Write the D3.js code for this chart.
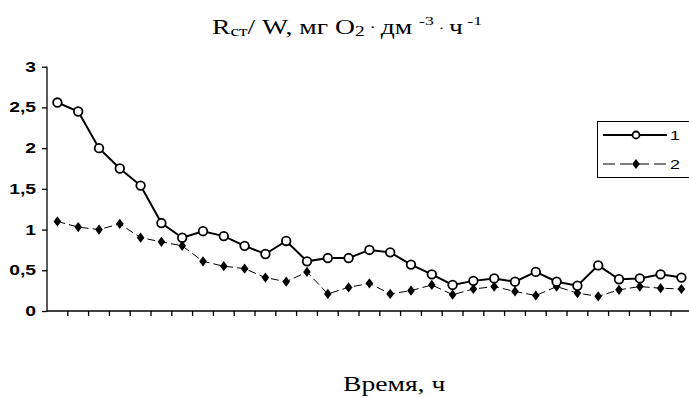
<!DOCTYPE html>
<html>
<head>
<meta charset="utf-8">
<script src="https://cdn.jsdelivr.net/npm/d3@7"></script>
<style>
body { margin: 0; background: #fff; }
svg { display: block; }
.ylab { font-family: "Liberation Sans", Arial, sans-serif; font-weight: bold; font-size: 14px; }
.serif { font-family: "Liberation Serif", "Times New Roman", serif; font-size: 20px; }
.leg { font-family: "Liberation Sans", Arial, sans-serif; font-size: 13px; }
</style>
</head>
<body>
<svg width="689" height="398"></svg>
<script>
// time points (no labels on x axis)
var hours = d3.range(1, 32);
var series1 = [2.56, 2.45, 2.00, 1.75, 1.54, 1.08, 0.90, 0.98, 0.92, 0.80,
    0.70, 0.86, 0.61, 0.65, 0.65, 0.75, 0.72, 0.57, 0.45, 0.32,
    0.37, 0.40, 0.36, 0.48, 0.36, 0.31, 0.56, 0.39, 0.40, 0.45, 0.41];
var series2 = [1.10, 1.03, 1.00, 1.07, 0.90, 0.85, 0.80, 0.61, 0.55, 0.52,
    0.41, 0.36, 0.48, 0.21, 0.29, 0.34, 0.21, 0.25, 0.32, 0.20,
    0.27, 0.30, 0.24, 0.19, 0.30, 0.22, 0.18, 0.26, 0.30, 0.28, 0.27];
var yTicks = [0, 0.5, 1, 1.5, 2, 2.5, 3];
var legendNames = ["1", "2"];

var svg = d3.select("svg");
var x0 = 47, x1 = 47 + 31 * 20.8;
var stretch = 1.38; // the original picture is widened, text included

var xScale = d3.scaleBand()
    .domain(hours)
    .range([x0, x1]);
var yScale = d3.scaleLinear()
    .domain([0, 3])
    .range([311, 66.7]);

var fmt = function(d) { return String(d).replace(".", ","); };

// y axis
var yAxis = svg.append("g")
    .attr("transform", "translate(" + x0 + ",0)")
    .call(d3.axisLeft(yScale).tickValues(yTicks).tickFormat(fmt).tickSize(5).tickPadding(6));
yAxis.select(".domain").attr("stroke", "#000").attr("stroke-width", 1.3).attr("d", "M0," + yScale(3) + "V" + yScale(0));
yAxis.selectAll(".tick line").attr("stroke", "#000").attr("stroke-width", 1.3);
yAxis.selectAll("text")
    .attr("class", "ylab").attr("fill", "#000")
    .attr("font-size", null).attr("font-family", null)
    .attr("x", -11 / stretch)
    .attr("transform", "scale(" + stretch + ",1)");

// x axis: ticks on band boundaries
var xAxis = svg.append("g")
    .attr("transform", "translate(0," + yScale(0) + ")");
xAxis.append("line")
    .attr("x1", x0).attr("x2", x1)
    .attr("stroke", "#000").attr("stroke-width", 1.3);
xAxis.selectAll(".xt")
    .data(hours)
    .enter().append("line")
    .attr("class", "xt")
    .attr("x1", function(d) { return xScale(d) + xScale.bandwidth(); })
    .attr("x2", function(d) { return xScale(d) + xScale.bandwidth(); })
    .attr("y1", 0).attr("y2", 5)
    .attr("stroke", "#000").attr("stroke-width", 1.3);

var cx = function(d, i) { return xScale(hours[i]) + xScale.bandwidth() / 2; };
var line = d3.line()
    .x(cx)
    .y(function(d) { return yScale(d); });

// series 2 - dashed with diamonds
svg.append("path")
    .datum(series2)
    .attr("d", line)
    .attr("fill", "none")
    .attr("stroke", "#000")
    .attr("stroke-width", 1)
    .attr("stroke-dasharray", "8,4");
var diamond = d3.symbol().type(d3.symbolDiamond).size(30);
svg.selectAll(".dia")
    .data(series2)
    .enter().append("path")
    .attr("class", "dia")
    .attr("d", diamond)
    .attr("transform", function(d, i) { return "translate(" + cx(d, i) + "," + yScale(d) + ") scale(1.3,1)"; })
    .attr("fill", "#000");

// series 1 - solid with open circles
svg.append("path")
    .datum(series1)
    .attr("d", line)
    .attr("fill", "none")
    .attr("stroke", "#000")
    .attr("stroke-width", 2);
svg.selectAll(".dot")
    .data(series1)
    .enter().append("circle")
    .attr("class", "dot")
    .attr("cx", cx)
    .attr("cy", function(d) { return yScale(d); })
    .attr("r", 4.3)
    .attr("fill", "#fff")
    .attr("stroke", "#000")
    .attr("stroke-width", 1.8);

// legend
var lg = svg.append("g");
lg.append("rect")
    .attr("x", 597.5).attr("y", 121.5)
    .attr("width", 100).attr("height", 56)
    .attr("fill", "#fff").attr("stroke", "#000").attr("stroke-width", 1);
legendNames.forEach(function(name, i) {
    var ly = 135 + i * 29;
    lg.append("line")
        .attr("x1", 603).attr("x2", 667).attr("y1", ly).attr("y2", ly)
        .attr("stroke", "#000")
        .attr("stroke-width", i == 0 ? 2 : 1)
        .attr("stroke-dasharray", i == 0 ? null : "12,5");
    if (i == 0) {
        lg.append("circle").attr("cx", 636).attr("cy", ly).attr("r", 3.5)
            .attr("fill", "#fff").attr("stroke", "#000").attr("stroke-width", 1.8);
    } else {
        lg.append("path").attr("d", diamond)
            .attr("transform", "translate(636," + ly + ") scale(1.3,1)").attr("fill", "#000");
    }
    lg.append("text")
        .attr("class", "leg")
        .attr("transform", "translate(670," + (ly + 5) + ") scale(" + stretch + ",1)")
        .text(name);
});

// title
var title = svg.append("text")
    .attr("class", "serif")
    .attr("transform", "translate(212,34) scale(" + stretch + ",1)");
title.append("tspan").text("R");
title.append("tspan").attr("font-size", 14).attr("dy", 2).text("ст");
title.append("tspan").attr("dy", -2).text("/ W, мг O");
title.append("tspan").attr("font-size", 14).attr("dy", 2).text("2");
title.append("tspan").attr("font-size", 14).attr("dy", -4).text(" · ");
title.append("tspan").attr("dy", 2).text("дм ");
title.append("tspan").attr("font-size", 13).attr("dy", -9).text("-3");
title.append("tspan").attr("font-size", 13).attr("dy", 7).text(" · ");
title.append("tspan").attr("dy", 2).text("ч");
title.append("tspan").attr("font-size", 13).attr("dy", -9).text(" -1");

// x label
svg.append("text")
    .attr("class", "serif")
    .attr("font-size", 21)
    .attr("transform", "translate(343,391) scale(" + stretch + ",1)")
    .text("Время, ч");
</script>
</body>
</html>
